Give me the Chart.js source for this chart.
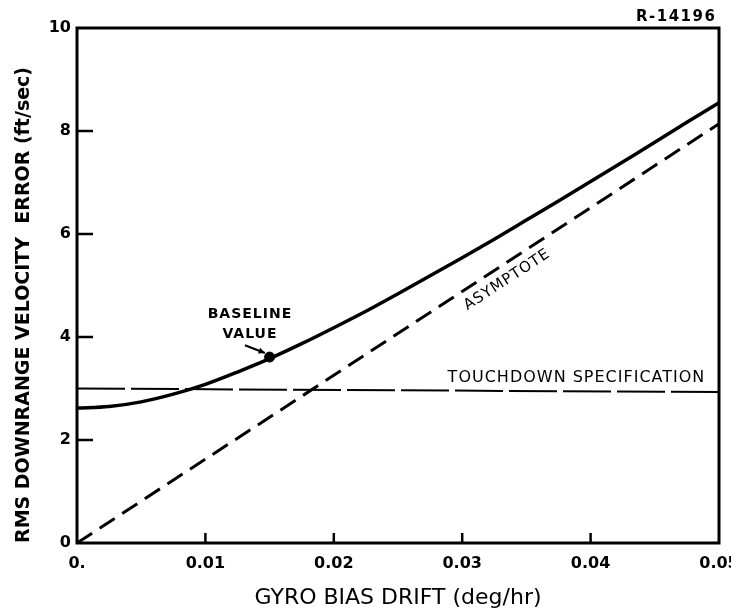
<!DOCTYPE html>
<html>
<head>
<meta charset="utf-8">
<script src="https://cdn.jsdelivr.net/npm/chart.js@4.4.1/dist/chart.umd.min.js"></script>
<style>
  html, body { margin: 0; padding: 0; background: #fff; }
  canvas { display: block; }
</style>
</head>
<body>
<canvas id="myChart" width="731" height="616"></canvas>
<script>
// values
const drift = [0, 0.0025, 0.005, 0.0075, 0.01, 0.0125, 0.015, 0.0175, 0.02, 0.0225, 0.025,
  0.0275, 0.03, 0.0325, 0.035, 0.0375, 0.04, 0.0425, 0.045, 0.0475, 0.05]
const rmsError = [2.62, 2.65, 2.74, 2.89, 3.08, 3.32, 3.58, 3.87, 4.18, 4.50, 4.84,
  5.19, 5.54, 5.90, 6.27, 6.64, 7.02, 7.40, 7.78, 8.17, 8.55]
const asymptoteX = [0, 0.05]
const asymptoteY = [0, 8.14]
const specX = [0, 0.05]
const specY = [3.0, 2.93]
const baselineX = [0.0150]
const baselineY = [3.61]
const xTicks = [0, 0.01, 0.02, 0.03, 0.04, 0.05]
const xTickLabels = ['0.', '0.01', '0.02', '0.03', '0.04', '0.05']
const yTicks = [0, 2, 4, 6, 8, 10]

const FONT = '"DejaVu Sans", sans-serif'
const ctx = document.getElementById('myChart').getContext('2d')

const toPoints = (xs, ys) => xs.map((x, i) => ({ x: x, y: ys[i] }))

// frame, inward ticks, notes
const paperPlugin = {
  id: 'paper',
  beforeDraw(chart) {
    const c = chart.ctx
    c.save()
    c.fillStyle = '#fff'
    c.fillRect(0, 0, chart.width, chart.height)
    c.restore()
  },
  afterDatasetsDraw(chart) {
    const c = chart.ctx
    const xs = chart.scales.x
    const ys = chart.scales.y
    const a = chart.chartArea
    c.save()
    c.strokeStyle = '#000'
    c.lineWidth = 3
    c.strokeRect(a.left, a.top, a.right - a.left, a.bottom - a.top)

    c.lineWidth = 2.5
    yTicks.slice(1, -1).forEach(v => {
      const py = ys.getPixelForValue(v)
      c.beginPath(); c.moveTo(a.left, py); c.lineTo(a.left + 16, py); c.stroke()
    })
    xTicks.slice(1, -1).forEach(v => {
      const px = xs.getPixelForValue(v)
      c.beginPath(); c.moveTo(px, a.bottom); c.lineTo(px, a.bottom - 10); c.stroke()
    })

    c.fillStyle = '#000'
    c.textBaseline = 'middle'
    c.textAlign = 'center'
    c.letterSpacing = '1px'
    c.font = 'bold 14px ' + FONT
    c.fillText('BASELINE', xs.getPixelForValue(0.01347), ys.getPixelForValue(4.43))
    c.fillText('VALUE', xs.getPixelForValue(0.01347), ys.getPixelForValue(4.06))

    // arrow to baseline point
    const x0 = xs.getPixelForValue(0.01308), y0 = ys.getPixelForValue(3.84)
    const x1 = xs.getPixelForValue(0.01464), y1 = ys.getPixelForValue(3.69)
    const ang = Math.atan2(y1 - y0, x1 - x0)
    c.lineWidth = 2
    c.beginPath(); c.moveTo(x0, y0); c.lineTo(x1, y1); c.stroke()
    c.beginPath()
    c.moveTo(x1, y1)
    c.lineTo(x1 - 7 * Math.cos(ang - 0.45), y1 - 7 * Math.sin(ang - 0.45))
    c.lineTo(x1 - 7 * Math.cos(ang + 0.45), y1 - 7 * Math.sin(ang + 0.45))
    c.closePath(); c.fill()

    c.font = '16px ' + FONT
    c.fillText('TOUCHDOWN SPECIFICATION', xs.getPixelForValue(0.0389), ys.getPixelForValue(3.20))

    const ax0 = xs.getPixelForValue(asymptoteX[0]), ay0 = ys.getPixelForValue(asymptoteY[0])
    const ax1 = xs.getPixelForValue(asymptoteX[1]), ay1 = ys.getPixelForValue(asymptoteY[1])
    c.save()
    c.translate(xs.getPixelForValue(0.0335), ys.getPixelForValue(5.11))
    c.rotate(Math.atan2(ay1 - ay0, ax1 - ax0))
    c.font = '15px ' + FONT
    c.fillText('ASYMPTOTE', 0, 0)
    c.restore()

    c.textAlign = 'right'
    c.letterSpacing = '1.5px'
    c.font = 'bold 15px ' + FONT
    c.fillText('R-14196', xs.getPixelForValue(0.0498), ys.getPixelForValue(10.21))
    c.restore()
  }
}

const config = {
  type: 'scatter',
  data: {
    datasets: [
      {
        data: toPoints(drift, rmsError),
        showLine: true,
        borderColor: '#000',
        borderWidth: 3.5,
        pointRadius: 0,
        cubicInterpolationMode: 'monotone',
        order: 1
      },
      {
        data: toPoints(asymptoteX, asymptoteY),
        showLine: true,
        borderColor: '#000',
        borderWidth: 3,
        borderDash: [18, 9],
        pointRadius: 0,
        order: 2
      },
      {
        data: toPoints(specX, specY),
        showLine: true,
        borderColor: '#000',
        borderWidth: 2,
        borderDash: [48, 6],
        pointRadius: 0,
        order: 3
      },
      {
        data: toPoints(baselineX, baselineY),
        backgroundColor: '#000',
        borderColor: '#000',
        pointRadius: 5,
        order: 0
      }
    ]
  },
  options: {
    responsive: false,
    animation: false,
    events: [],
    layout: { padding: { top: 28, right: 12, left: 0, bottom: 0 } },
    plugins: { legend: { display: false }, tooltip: { enabled: false } },
    scales: {
      x: {
        type: 'linear',
        min: 0,
        max: 0.05,
        afterBuildTicks: s => { s.ticks = xTicks.map(v => ({ value: v })) },
        afterFit: s => { s.height = 73; s.paddingLeft = 0; s.paddingRight = 0 },
        grid: { display: false, drawTicks: false },
        border: { display: false },
        ticks: {
          autoSkip: false,
          maxRotation: 0,
          padding: 11,
          color: '#000',
          font: { family: FONT, size: 16, weight: 'bold' },
          callback: (v, i) => xTickLabels[i]
        },
        title: {
          display: true,
          text: 'GYRO BIAS DRIFT (deg/hr)',
          color: '#000',
          padding: { top: 0, bottom: 5 },
          font: { family: FONT, size: 22 }
        }
      },
      y: {
        min: 0,
        max: 10,
        afterBuildTicks: s => { s.ticks = yTicks.map(v => ({ value: v })) },
        afterFit: s => { s.width = 77; s.paddingTop = 0; s.paddingBottom = 0 },
        grid: { display: false, drawTicks: false },
        border: { display: false },
        ticks: {
          padding: 6,
          color: '#000',
          font: { family: FONT, size: 16, weight: 'bold' }
        },
        title: {
          display: true,
          align: 'start',
          text: 'RMS DOWNRANGE VELOCITY  ERROR (ft/sec)',
          color: '#000',
          padding: { top: 13, bottom: 0 },
          font: { family: FONT, size: 19, weight: 'bold' }
        }
      }
    }
  },
  plugins: [paperPlugin]
}

const myChart = new Chart(ctx, config)
</script>
</body>
</html>
